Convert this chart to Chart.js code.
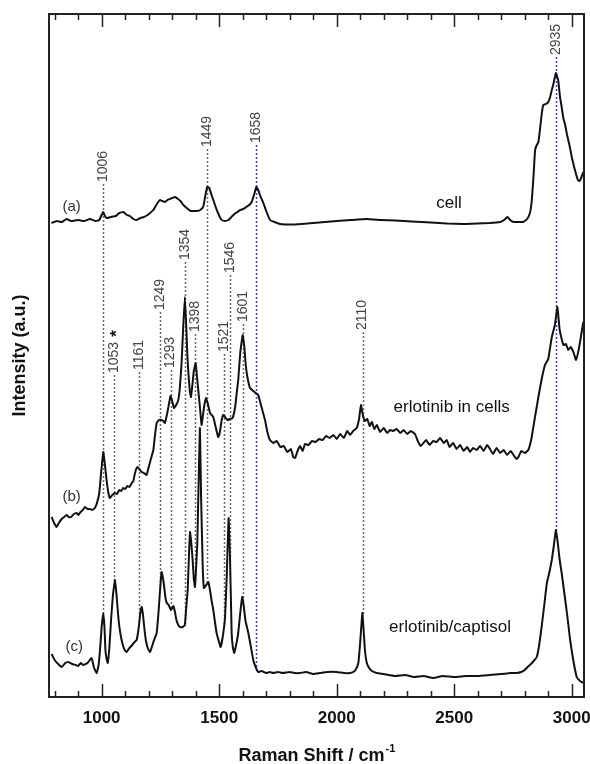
<!DOCTYPE html>
<html>
<head>
<meta charset="utf-8">
<title>Raman spectra - erlotinib</title>
<script src="https://cdn.jsdelivr.net/npm/chart.js@4.4.1/dist/chart.umd.min.js"></script>
<style>
  html, body { margin: 0; padding: 0; background: #fff; }
  #wrap { width: 590px; height: 764px; }
</style>
</head>
<body>
<div id="wrap"><canvas id="ramanChart" width="590" height="764"></canvas></div>
<script>
// Raman spectra: [shift (cm-1), intensity (a.u., stacked offsets)]

// (a) cell
const cellSpectrum = [
  [786,474],[810,476],[830,475],[851,478],[870,476],[900,477],[925,476],[950,478],[975,476],[990,477],
  [1006,485],[1014,481],[1021,479],[1040,480],[1060,481],[1075,484],[1092,485],[1108,482],[1120,481],[1135,478],
  [1149,477],[1165,479],[1180,480],[1195,482],[1206,484],[1220,487],[1235,493],[1248,497],[1258,496],[1269,495],
  [1280,497],[1290,498],[1300,499],[1312,500],[1325,498],[1335,496],[1348,492],[1362,489],[1378,486],[1390,486],
  [1404,486],[1420,487],[1432,490],[1440,500],[1449,510],[1458,509],[1466,503],[1475,497],[1485,490],[1495,484],
  [1505,479],[1511,477],[1525,476],[1539,477],[1552,480],[1565,483],[1578,485],[1589,487],[1602,488],[1615,490],
  [1628,492],[1638,495],[1648,502],[1658,510],[1666,507],[1675,501],[1688,494],[1700,486],[1716,477],[1735,475],
  [1759,473],[1800,472.5],[1850,473],[1900,474],[1950,475],[2000,476],[2060,477],[2128,478],[2190,477],[2250,476.5],
  [2320,475.5],[2400,474.5],[2470,473.5],[2539,473],[2600,473.5],[2650,474],[2695,475],[2712,477],[2726,480],[2738,477],
  [2752,475],[2775,475],[2794,475],[2810,478],[2822,484],[2830,497],[2837,520],[2844,547],[2851,552],[2858,555],
  [2865,568],[2872,583],[2879,592],[2890,593],[2900,595],[2908,600],[2915,607],[2922,613],[2932,624],[2942,617],
  [2950,600],[2957,590],[2964,579],[2972,572],[2980,562],[2990,552],[3000,540],[3010,530],[3018,523],[3026,517],
  [3033,516],[3040,519],[3049,525]
];

// (b) erlotinib in cells
const erlotinibCellsSpectrum = [
  [787,180],[800,173],[808,170],[818,174],[830,178],[840,180],[851,182],[860,180],[870,180],[882,183],
  [894,184],[902,182],[910,185],[920,187],[929,190],[940,188],[950,188],[960,187],[971,189],[980,194],
  [990,204],[998,225],[1007,245],[1014,232],[1021,217],[1028,205],[1035,199],[1045,202],[1057,204],[1065,203],
  [1075,207],[1083,206],[1092,209],[1100,208],[1110,211],[1118,210],[1128,214],[1135,216],[1140,222],[1147,228],
  [1153,230],[1160,228],[1170,225],[1180,224],[1191,222],[1198,228],[1206,235],[1213,241],[1220,247],[1227,262],
  [1234,274],[1244,277],[1255,277],[1262,276],[1269,274],[1280,285],[1293,301],[1300,296],[1308,289],[1317,292],
  [1326,297],[1333,310],[1340,334],[1347,370],[1354,400],[1360,370],[1365,340],[1369,324],[1375,306],[1380,300],
  [1386,312],[1392,326],[1400,334],[1405,322],[1411,307],[1418,290],[1425,272],[1430,280],[1437,292],[1444,299],
  [1452,293],[1461,284],[1468,282],[1475,280],[1485,270],[1491,264],[1496,260],[1503,265],[1510,276],[1517,282],
  [1525,280],[1535,277],[1545,278],[1557,279],[1568,290],[1575,305],[1581,317],[1590,345],[1600,362],[1607,350],
  [1613,332],[1620,320],[1631,309],[1645,306],[1655,304],[1666,302],[1680,290],[1695,277],[1705,265],[1716,257],
  [1730,254],[1745,256],[1760,250],[1775,251],[1790,245],[1805,248],[1815,240],[1823,239],[1835,247],[1844,251],
  [1855,246],[1865,253],[1880,252],[1895,256],[1910,255],[1925,258],[1940,257],[1955,261],[1970,259],[1986,262],
  [2000,258],[2015,263],[2030,259],[2045,266],[2057,262],[2070,266],[2085,269],[2095,278],[2103,292],[2112,281],
  [2120,276],[2130,278],[2140,271],[2150,275],[2160,268],[2170,272],[2185,265],[2200,269],[2215,264],[2227,267],
  [2240,266],[2255,268],[2270,264],[2285,267],[2300,263],[2315,266],[2333,263],[2345,256],[2358,251],[2369,254],
  [2380,257],[2395,252],[2410,256],[2425,255],[2440,259],[2455,254],[2468,257],[2480,250],[2495,254],[2510,248],
  [2525,252],[2540,246],[2555,250],[2567,245],[2580,249],[2595,247],[2610,251],[2625,246],[2640,252],[2652,248],
  [2665,243],[2680,249],[2695,244],[2710,247],[2725,242],[2740,246],[2755,241],[2765,238],[2773,240],[2785,246],
  [2800,244],[2815,247],[2828,258],[2840,275],[2858,300],[2872,318],[2886,332],[2900,338],[2915,360],[2928,372],
  [2939,390],[2948,368],[2957,358],[2965,352],[2975,353],[2985,347],[2995,350],[3007,345],[3018,337],[3030,348],
  [3040,362],[3049,375]
];

// (c) erlotinib/captisol
const captisolSpectrum = [
  [787,43],[800,37],[815,33],[830,30],[845,34],[858,35],[875,33],[890,32],[900,31],[911,34],
  [922,32],[940,34],[957,39],[968,29],[979,24],[987,32],[993,47],[1000,70],[1007,84],[1012,70],
  [1016,47],[1021,38],[1026,34],[1033,50],[1040,77],[1048,102],[1057,117],[1064,100],[1072,77],[1080,63],
  [1090,52],[1098,47],[1106,45],[1118,49],[1130,52],[1140,55],[1149,57],[1158,70],[1165,85],[1170,90],
  [1176,82],[1182,68],[1188,57],[1196,49],[1206,45],[1220,55],[1234,64],[1242,85],[1250,112],[1255,125],
  [1260,120],[1265,112],[1271,100],[1277,94],[1285,92],[1295,87],[1305,91],[1312,85],[1318,77],[1326,72],
  [1333,70],[1345,70],[1354,72],[1360,90],[1366,107],[1372,145],[1376,165],[1381,155],[1387,137],[1392,118],
  [1397,110],[1402,130],[1407,154],[1412,210],[1418,269],[1423,200],[1430,130],[1435,109],[1445,112],[1454,115],
  [1460,108],[1468,96],[1475,87],[1482,75],[1489,64],[1497,57],[1506,50],[1515,60],[1525,80],[1532,120],
  [1540,179],[1546,140],[1553,64],[1558,50],[1564,44],[1572,52],[1581,64],[1590,85],[1598,100],[1604,92],
  [1612,76],[1624,64],[1635,50],[1645,37],[1655,30],[1666,25],[1680,26],[1700,24],[1715,25],[1730,24],
  [1750,25],[1770,24],[1800,25],[1820,24],[1844,24],[1870,25],[1900,23],[1929,24],[1960,25],[2000,25],
  [2030,24],[2057,24],[2070,25],[2080,27],[2092,34],[2100,55],[2109,84],[2115,65],[2120,47],[2128,34],
  [2138,29],[2150,26],[2170,24],[2200,23],[2250,21],[2290,22],[2330,20],[2370,21],[2411,19],[2450,21],
  [2500,20],[2550,21],[2600,21],[2650,22],[2700,23],[2740,24],[2766,24],[2785,25],[2800,27],[2812,30],
  [2822,32],[2838,36],[2851,40],[2860,50],[2870,67],[2882,90],[2894,114],[2905,125],[2915,137],[2924,152],
  [2932,167],[2940,155],[2948,138],[2957,124],[2966,108],[2975,92],[2984,75],[2993,57],[3002,43],[3010,32],
  [3021,20],[3035,16],[3049,14]
];

// axis
const xTicks = [1000, 1500, 2000, 2500, 3000];

// assigned peaks: position, label, where the label text starts (intensity units)
const peakShifts    = [1006, 1449, 1658, 2935, 1053, 1161, 1249, 1293, 1354, 1398, 1521, 1546, 1601, 2110];
const peakLabels    = ["1006", "1449", "1658", "2935", "1053", "1161", "1249", "1293", "1354", "1398", "1521", "1546", "1601", "2110"];
const peakLabelBase = [515, 550, 554, 642, 324, 327, 387, 329, 437, 365, 345, 424, 375, 367];

// trace captions
const traceTags      = ["(a)", "(b)", "(c)"];
const traceTagShift  = [872, 872, 883];
const traceTagY      = [490, 200, 50];
const sampleNames    = ["cell", "erlotinib in cells", "erlotinib/captisol"];
const sampleNameShift = [2478, 2489, 2482];
const sampleNameY    = [494, 290, 70];

const FONT = "'Liberation Sans', Arial, Helvetica, sans-serif";
const blueLines = ["1658", "2935"];

// linear interpolation on a spectrum, used to stop the dotted guides on trace (c)
function valueAt(spec, x) {
  for (let i = 1; i < spec.length; i++) {
    if (spec[i][0] >= x) {
      const [x0, y0] = spec[i - 1], [x1, y1] = spec[i];
      return y0 + (y1 - y0) * (x - x0) / (x1 - x0);
    }
  }
  return spec[spec.length - 1][1];
}

const toPoints = spec => spec.map(([x, y]) => ({ x, y }));

const ramanDecor = {
  id: "ramanDecor",
  beforeDatasetsDraw(chart) {
    const { ctx, scales: { x, y } } = chart;
    ctx.save();
    ctx.lineWidth = 1.5;
    ctx.setLineDash([2, 2]);
    peakShifts.forEach((s, i) => {
      const px = Math.round(x.getPixelForValue(s)) + 0.5;
      const top = y.getPixelForValue(peakLabelBase[i]) + 2;
      const bottom = y.getPixelForValue(valueAt(captisolSpectrum, s));
      ctx.strokeStyle = blueLines.includes(peakLabels[i]) ? "#3c40a8" : "#6a6a6a";
      ctx.beginPath();
      ctx.moveTo(px, top);
      ctx.lineTo(px, bottom);
      ctx.stroke();
    });
    ctx.restore();
  },
  afterDatasetsDraw(chart) {
    const { ctx, chartArea: area, scales: { x, y } } = chart;
    ctx.save();

    // rotated peak labels
    ctx.font = "14px " + FONT;
    ctx.fillStyle = "#444";
    ctx.textAlign = "left";
    ctx.textBaseline = "middle";
    peakShifts.forEach((s, i) => {
      const px = x.getPixelForValue(s);
      const py = y.getPixelForValue(peakLabelBase[i]);
      ctx.save();
      ctx.translate(px, py);
      ctx.rotate(-Math.PI / 2);
      ctx.fillText(peakLabels[i], 0, 0);
      if (peakLabels[i] === "1053") {
        const w = ctx.measureText("1053").width;
        ctx.font = "bold 17px " + FONT;
        ctx.fillStyle = "#111";
        ctx.fillText("*", w + 5, 3);
      }
      ctx.restore();
    });

    // trace tags and sample names
    ctx.textAlign = "center";
    ctx.font = "15px " + FONT;
    ctx.fillStyle = "#333";
    traceTags.forEach((t, i) => {
      ctx.fillText(t, x.getPixelForValue(traceTagShift[i]), y.getPixelForValue(traceTagY[i]));
    });
    ctx.font = "17px " + FONT;
    ctx.fillStyle = "#111";
    sampleNames.forEach((t, i) => {
      ctx.fillText(t, x.getPixelForValue(sampleNameShift[i]), y.getPixelForValue(sampleNameY[i]));
    });

    // frame
    ctx.strokeStyle = "#222";
    ctx.lineWidth = 2;
    ctx.strokeRect(area.left, area.top, area.right - area.left, area.bottom - area.top);

    // inward ticks on bottom and top
    ctx.lineWidth = 1.5;
    for (let v = 800; v <= 3000; v += 100) {
      const px = Math.round(x.getPixelForValue(v)) + 0.5;
      const len = v % 500 === 0 ? 13 : 6;
      ctx.beginPath();
      ctx.moveTo(px, area.bottom);
      ctx.lineTo(px, area.bottom - len);
      ctx.moveTo(px, area.top);
      ctx.lineTo(px, area.top + len);
      ctx.stroke();
    }

    // x title with superscript
    const main = "Raman Shift / cm";
    const sup = "-1";
    ctx.font = "bold 18px " + FONT;
    const w1 = ctx.measureText(main).width;
    ctx.font = "bold 11px " + FONT;
    const w2 = ctx.measureText(sup).width;
    const cx = (area.left + area.right) / 2;
    const start = cx - (w1 + w2) / 2;
    ctx.textAlign = "left";
    ctx.textBaseline = "alphabetic";
    ctx.fillStyle = "#111";
    ctx.font = "bold 18px " + FONT;
    ctx.fillText(main, start, 761);
    ctx.font = "bold 11px " + FONT;
    ctx.fillText(sup, start + w1 + 1, 752);

    ctx.restore();
  }
};

const chart = new Chart(document.getElementById("ramanChart"), {
  type: "line",
  data: {
    datasets: [
      { label: "cell", data: toPoints(cellSpectrum) },
      { label: "erlotinib in cells", data: toPoints(erlotinibCellsSpectrum) },
      { label: "erlotinib/captisol", data: toPoints(captisolSpectrum) }
    ]
  },
  options: {
    responsive: false,
    animation: false,
    devicePixelRatio: 1,
    layout: { padding: { top: 14, right: 6, left: 0, bottom: 0 } },
    elements: {
      line: { borderColor: "#111", borderWidth: 2, tension: 0.1, fill: false },
      point: { radius: 0, hoverRadius: 0 }
    },
    plugins: { legend: { display: false }, tooltip: { enabled: false } },
    scales: {
      x: {
        type: "linear",
        min: 776,
        max: 3052,
        afterBuildTicks: s => { s.ticks = xTicks.map(v => ({ value: v })); },
        afterFit: s => { s.height = 67; s.paddingLeft = 0; s.paddingRight = 0; },
        grid: { display: false },
        border: { display: false },
        ticks: {
          autoSkip: false,
          maxRotation: 0,
          padding: 3,
          color: "#111",
          font: { family: FONT, size: 17, weight: "bold" },
          callback: v => String(v)
        }
      },
      y: {
        min: 0,
        max: 683,
        afterFit: s => { s.width = 49; },
        grid: { display: false },
        border: { display: false },
        ticks: { display: false },
        title: {
          display: true,
          text: "Intensity (a.u.)",
          color: "#111",
          padding: { top: 9, bottom: 0 },
          font: { family: FONT, size: 18, weight: "bold" }
        }
      }
    }
  },
  plugins: [ramanDecor]
});
</script>
</body>
</html>
